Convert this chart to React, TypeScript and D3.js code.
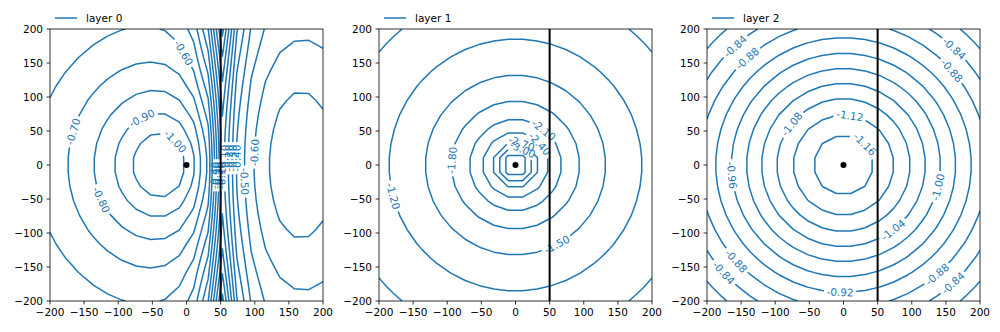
import React from "react";
import * as d3 from "d3";

// ---------- data ----------
const GRID_N = 20;
const X_MIN = -200;
const X_MAX = 200;
const LAYER_NAMES = ["layer 0", "layer 1", "layer 2"];
const WELL_XY: [number, number] = [0, 0];
const WALL_X = 50;
const TICKS = [-200, -150, -100, -50, 0, 50, 100, 150, 200];

const LEVELS_0 = [-1.0, -0.9, -0.8, -0.7, -0.6, -0.5, -0.4, -0.3, -0.2, -0.1, 0.0, 0.1, 0.2, 0.3, 0.4, 0.5, 0.6];
const LEVELS_1 = [-3.9, -3.6, -3.3, -3.0, -2.7, -2.4, -2.1, -1.8, -1.5, -1.2, -0.9];
const LEVELS_2 = [-1.16, -1.12, -1.08, -1.04, -1.0, -0.96, -0.92, -0.88, -0.84, -0.8];

// head field parameters
const L0_LEFT = { min: -1.125, k: 0.18, cx: -34, s: 45, ys: 1.12 };
const L0_RIGHT = { min: -0.79, k: 0.185, cx: 165, s: 140, ax: 2.1 };
const L0_RIDGE = { p0: 0.55, p1: 0.35, decay: 22 };
const L1_FIELD = { h: -1.2, k: 0.8813, r: 185 };
const L2_FIELD = { min: -1.186, k: 0.237, s: 130 };

// contour labels: [level, x, y]
const LABELS_0: [number, number, number][] = [
  [-0.6, -22, 156], [-0.9, -73, 85], [-1.0, -17, 34], [-0.7, -181, 53], [-0.8, -138, -56],
  [-0.5, 96, -24], [-0.6, 106, 18],
];
const CROWD_LEFT: [number, number] = [40, -15];
const CROWD_RIGHT: [number, number] = [62, 10];
const LABELS_1: [number, number, number][] = [
  [-2.1, 46, 56], [-2.4, 46, 37], [-2.7, 9, 41], [-3.0, 14, 27], [-1.5, 61, -118], [-1.8, -86, 7], [-1.2, -184, -47],
];
const LABELS_2: [number, number, number][] = [
  [-0.84, -158, 174], [-0.88, -141, 157], [-1.08, -74, 59], [-1.12, 9.5, 73.5], [-1.16, 34, 32],
  [-0.96, -163, -15], [-1.0, 137, -32], [-1.04, 73, -96], [-0.88, -156, -140], [-0.84, -174, -157],
  [-0.92, -5, -186], [-0.88, 134, -157], [-0.84, 159, -172], [-0.84, 160, 169], [-0.88, 160, 140],
];

// ---------- fields ----------
function head0(x: number, y: number) {
  const d = Math.abs(x - WALL_X);
  let base;
  if (x < WALL_X) {
    const r2 = (x - L0_LEFT.cx) ** 2 + (y / L0_LEFT.ys) ** 2;
    base = L0_LEFT.min + L0_LEFT.k * Math.log(1 + r2 / (L0_LEFT.s * L0_LEFT.s));
  } else {
    const r2 = ((x - L0_RIGHT.cx) * L0_RIGHT.ax) ** 2 + y * y;
    base = L0_RIGHT.min + L0_RIGHT.k * Math.log(1 + r2 / (L0_RIGHT.s * L0_RIGHT.s));
  }
  const p = L0_RIDGE.p0 + L0_RIDGE.p1 * (y / 200) ** 2;
  return base + p * Math.exp(-d / L0_RIDGE.decay);
}
function head1(x: number, y: number) {
  const r = Math.max(Math.hypot(x - WELL_XY[0], y - WELL_XY[1]), 0.5);
  return L1_FIELD.h + L1_FIELD.k * Math.log(r / L1_FIELD.r);
}
function head2(x: number, y: number) {
  const r2 = (x - WELL_XY[0]) ** 2 + (y - WELL_XY[1]) ** 2;
  return L2_FIELD.min + L2_FIELD.k * Math.log(1 + r2 / (L2_FIELD.s * L2_FIELD.s));
}

// ---------- marching squares ----------
type P = [number, number];
function isolines(V: number[][], xs: number[], ys: number[], lev: number): P[][] {
  const pts = new Map<string, P>();
  const adj = new Map<string, string[]>();
  const link = (a: string, b: string) => {
    if (!adj.has(a)) adj.set(a, []);
    if (!adj.has(b)) adj.set(b, []);
    adj.get(a)!.push(b);
    adj.get(b)!.push(a);
  };
  const setPt = (id: string, xa: number, ya: number, va: number, xb: number, yb: number, vb: number) => {
    const t = (lev - va) / (vb - va);
    pts.set(id, [xa + t * (xb - xa), ya + t * (yb - ya)]);
  };
  for (let j = 0; j < ys.length - 1; j++) {
    for (let i = 0; i < xs.length - 1; i++) {
      const v00 = V[j][i], v10 = V[j][i + 1], v11 = V[j + 1][i + 1], v01 = V[j + 1][i];
      const a00 = v00 >= lev, a10 = v10 >= lev, a11 = v11 >= lev, a01 = v01 >= lev;
      const B = `h${i}_${j}`, R = `v${i + 1}_${j}`, T = `h${i}_${j + 1}`, L = `v${i}_${j}`;
      const c: string[] = [];
      if (a00 !== a10) { setPt(B, xs[i], ys[j], v00, xs[i + 1], ys[j], v10); c.push(B); }
      if (a10 !== a11) { setPt(R, xs[i + 1], ys[j], v10, xs[i + 1], ys[j + 1], v11); c.push(R); }
      if (a01 !== a11) { setPt(T, xs[i], ys[j + 1], v01, xs[i + 1], ys[j + 1], v11); c.push(T); }
      if (a00 !== a01) { setPt(L, xs[i], ys[j], v00, xs[i], ys[j + 1], v01); c.push(L); }
      if (c.length === 2) link(c[0], c[1]);
      else if (c.length === 4) {
        const center = (v00 + v10 + v11 + v01) / 4 >= lev;
        if (a00 !== center) { link(B, L); link(R, T); }
        else { link(B, R); link(T, L); }
      }
    }
  }
  const visited = new Set<string>();
  const walk = (start: string) => {
    const out: P[] = [];
    let cur: string | undefined = start;
    while (cur !== undefined && !visited.has(cur)) {
      visited.add(cur);
      out.push(pts.get(cur)!);
      const nb: string[] = adj.get(cur) || [];
      cur = nb.find((n) => !visited.has(n));
    }
    return out;
  };
  const lines: P[][] = [];
  for (const [id, nb] of adj) if (nb.length === 1 && !visited.has(id)) lines.push(walk(id));
  for (const [id] of adj) {
    if (!visited.has(id)) {
      const l = walk(id);
      l.push(l[0]);
      lines.push(l);
    }
  }
  return lines;
}

// ---------- layout ----------
const W = 1000, H = 332;
const AX_LEFT = [50, 379, 707];
const AX_W = 273;
const AX_TOP = 29;
const AX_H = 272;
const BLUE = "#1f77b4";
const FONT = "'DejaVu Sans', sans-serif";
const FS = 10.5;
const LFS = 10.5;

const CHAR_W: Record<string, number> = { "-": 0.361, ".": 0.318 };
const textWidth = (s: string, fs: number) =>
  s.split("").reduce((a, ch) => a + (CHAR_W[ch] ?? 0.636), 0) * fs;
const fmtLevel = (v: number) => {
  const s = (Math.round(v * 100) / 100).toFixed(2);
  return s === "-0.00" ? "0.00" : s;
};
const fmtTick = (v: number) => (v < 0 ? "\u2212" + Math.abs(v) : String(v));

type Label = { x: number; y: number; angle: number; text: string; w: number; li: number };

function placeLabel(lines: P[][], ax: number, ay: number): { x: number; y: number; line: P[]; s: number } | null {
  let best: any = null;
  for (const line of lines) {
    let acc = 0;
    for (let k = 0; k < line.length - 1; k++) {
      const [x1, y1] = line[k], [x2, y2] = line[k + 1];
      const dx = x2 - x1, dy = y2 - y1;
      const len = Math.hypot(dx, dy);
      let t = len > 0 ? ((ax - x1) * dx + (ay - y1) * dy) / (len * len) : 0;
      t = Math.max(0, Math.min(1, t));
      const px = x1 + t * dx, py = y1 + t * dy;
      const dist = Math.hypot(px - ax, py - ay);
      if (!best || dist < best.dist) best = { dist, x: px, y: py, line, s: acc + t * len };
      acc += len;
    }
  }
  return best;
}
function pointAt(line: P[], s: number): P {
  let acc = 0;
  for (let k = 0; k < line.length - 1; k++) {
    const len = Math.hypot(line[k + 1][0] - line[k][0], line[k + 1][1] - line[k][1]);
    if (acc + len >= s) {
      const t = len > 0 ? (s - acc) / len : 0;
      return [line[k][0] + t * (line[k + 1][0] - line[k][0]), line[k][1] + t * (line[k + 1][1] - line[k][1])];
    }
    acc += len;
  }
  return line[line.length - 1];
}

function Panel({ idx }: { idx: number }) {
  const left = AX_LEFT[idx];
  const xS = d3.scaleLinear().domain([X_MIN, X_MAX]).range([left, left + AX_W]);
  const yS = d3.scaleLinear().domain([X_MIN, X_MAX]).range([AX_TOP + AX_H, AX_TOP]);
  const gx = d3.range(GRID_N).map((i) => X_MIN + ((X_MAX - X_MIN) * i) / (GRID_N - 1));
  const gy = gx.slice();
  const fn = [head0, head1, head2][idx];
  const levels = [LEVELS_0, LEVELS_1, LEVELS_2][idx];
  const V = gy.map((y) => gx.map((x) => fn(x, y)));
  const contours = levels.map((lev) =>
    isolines(V, gx, gy, lev).map((l) => l.map(([x, y]) => [xS(x), yS(y)] as P))
  );

  const specs: [number, number, number, number][] = []; // level, x, y, maxDist
  const baseLabels = [LABELS_0, LABELS_1, LABELS_2][idx];
  baseLabels.forEach(([lv, x, y]) => specs.push([lv, x, y, 40]));
  if (idx === 0) {
    LEVELS_0.filter((l) => l >= -0.45).forEach((lv) => {
      specs.push([lv, CROWD_LEFT[0], CROWD_LEFT[1], 20]);
      specs.push([lv, CROWD_RIGHT[0], CROWD_RIGHT[1], 20]);
    });
  }
  const labels: Label[] = [];
  specs.forEach(([lv, x, y, maxD]) => {
    const li = levels.findIndex((l) => Math.abs(l - lv) < 1e-6);
    if (li < 0) return;
    const ax = xS(x), ay = yS(y);
    const pl = placeLabel(contours[li], ax, ay);
    if (!pl) return;
    if (Math.hypot(pl.x - ax, pl.y - ay) > maxD) return;
    const text = fmtLevel(lv);
    const w = textWidth(text, FS);
    const p1 = pointAt(pl.line, Math.max(0, pl.s - w / 2));
    const p2 = pointAt(pl.line, pl.s + w / 2);
    let angle = (Math.atan2(p2[1] - p1[1], p2[0] - p1[0]) * 180) / Math.PI;
    if (angle > 90) angle -= 180;
    if (angle < -90) angle += 180;
    labels.push({ x: pl.x, y: pl.y, angle, text, w, li });
  });

  const line = d3.line<P>().x((d) => d[0]).y((d) => d[1]);
  const clipId = `clip${idx}`;
  return (
    <g>
      <defs>
        <clipPath id={clipId}>
          <rect x={left} y={AX_TOP} width={AX_W} height={AX_H} />
        </clipPath>
        {levels.map((_, li) => (
          <mask id={`m${idx}_${li}`} key={li} maskUnits="userSpaceOnUse" x={0} y={0} width={W} height={H}>
            <rect x={0} y={0} width={W} height={H} fill="white" />
            {labels
              .filter((l) => l.li === li)
              .map((l, k) => (
                <rect
                  key={k}
                  x={l.x - l.w / 2 - 2.5}
                  y={l.y - FS * 0.6}
                  width={l.w + 5}
                  height={FS * 1.2}
                  fill="black"
                  transform={`rotate(${l.angle} ${l.x} ${l.y})`}
                />
              ))}
          </mask>
        ))}
      </defs>
      <g clipPath={`url(#${clipId})`}>
        {contours.map((ls, li) => (
          <g key={li} mask={`url(#m${idx}_${li})`}>
            {ls.map((l, k) => (
              <path key={k} d={line(l) || ""} fill="none" stroke={BLUE} strokeWidth={1.5} strokeLinejoin="round" />
            ))}
          </g>
        ))}
      </g>
      {labels.map((l, k) => (
        <text
          key={k}
          x={l.x}
          y={l.y}
          fill={BLUE}
          fontSize={FS}
          fontFamily={FONT}
          textAnchor="middle"
          dominantBaseline="central"
          transform={`rotate(${l.angle} ${l.x} ${l.y})`}
        >
          {l.text}
        </text>
      ))}
      <line x1={xS(WALL_X)} x2={xS(WALL_X)} y1={AX_TOP} y2={AX_TOP + AX_H} stroke="black" strokeWidth={2} />
      <circle cx={xS(WELL_XY[0])} cy={yS(WELL_XY[1])} r={3} fill="black" />
      <rect x={left} y={AX_TOP} width={AX_W} height={AX_H} fill="none" stroke="black" strokeWidth={0.8} />
      {TICKS.map((t) => (
        <g key={`x${t}`}>
          <line x1={xS(t)} x2={xS(t)} y1={AX_TOP + AX_H} y2={AX_TOP + AX_H + 3.5} stroke="black" strokeWidth={0.8} />
          <text x={xS(t)} y={AX_TOP + AX_H + 7} fontSize={LFS} fontFamily={FONT} textAnchor="middle" dominantBaseline="hanging">
            {fmtTick(t)}
          </text>
        </g>
      ))}
      {TICKS.map((t) => (
        <g key={`y${t}`}>
          <line x1={left - 3.5} x2={left} y1={yS(t)} y2={yS(t)} stroke="black" strokeWidth={0.8} />
          <text x={left - 7} y={yS(t)} fontSize={LFS} fontFamily={FONT} textAnchor="end" dominantBaseline="central">
            {fmtTick(t)}
          </text>
        </g>
      ))}
      <line x1={left + 5} x2={left + 27} y1={18} y2={18} stroke={BLUE} strokeWidth={1.5} />
      <text x={left + 36} y={18} fontSize={LFS} fontFamily={FONT} dominantBaseline="central">
        {LAYER_NAMES[idx]}
      </text>
    </g>
  );
}

export default function App() {
  return (
    <svg width={W} height={H} style={{ position: "absolute", left: 0, top: 0, background: "white" }}>
      <rect width={W} height={H} fill="white" />
      {[0, 1, 2].map((i) => (
        <Panel key={i} idx={i} />
      ))}
    </svg>
  );
}
